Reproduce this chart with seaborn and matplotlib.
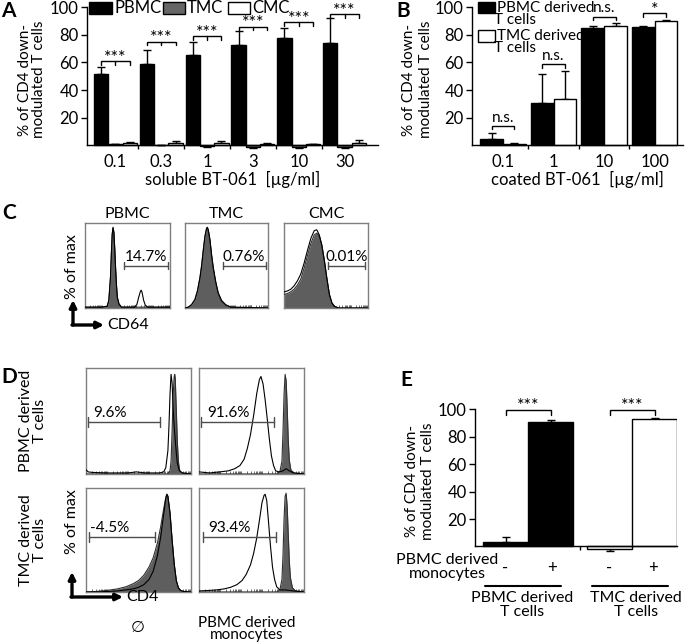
import numpy as np
import pandas as pd
import matplotlib
matplotlib.use('Agg')
import matplotlib.pyplot as plt
import seaborn as sns
from matplotlib.patches import Rectangle, FancyArrowPatch
from matplotlib.lines import Line2D

# ---------------- data ----------------
# Panel A
a_conc = ['0.1', '0.3', '1', '3', '10', '30']
a_cells = ['PBMC', 'TMC', 'CMC']
a_pbmc = [52, 59, 65.5, 73, 78, 74]
a_pbmc_err = [5, 10, 9.5, 9.5, 7, 18]
a_tmc = [0.8, 0.2, -0.6, -1.0, -1.0, -1.0]
a_tmc_err = [0.3, 0.2, 0.4, 0.6, 1.0, 0.6]
a_cmc = [1.8, 1.6, 1.8, 1.2, 1.0, 2.0]
a_cmc_err = [0.8, 1.3, 1.0, 0.3, 0.3, 1.6]
a_sig = ['***'] * 6
a_sig_y = [61, 75, 79, 86, 89, 95]

# Panel B
b_conc = ['0.1', '1', '10', '100']
b_cells = ['PBMC derived T cells', 'TMC derived T cells']
b_pbmc = [4.4, 30.5, 84.8, 86.0]
b_pbmc_err = [4.7, 21.5, 1.4, 0.7]
b_tmc = [0.7, 33.6, 86.7, 90.4]
b_tmc_err = [1.3, 20.0, 1.8, 0.5]
b_sig = ['n.s.', 'n.s.', 'n.s.', '*']
b_sig_y = [14, 58.7, 93.3, 95.7]

# Panel E
e_tcells = ['PBMC derived T cells', 'TMC derived T cells']
e_mono = ['-', '+']
e_pbmc_t = [3.0, 91.0]
e_pbmc_t_err = [4.1, 1.2]
e_tmc_t = [-1.9, 92.7]
e_tmc_t_err = [1.7, 0.7]
e_sig = ['***', '***']
e_sig_y = [99.5, 99.5]

# Panel C histograms (x, y as fraction of axis)
c_titles = ['PBMC', 'TMC', 'CMC']
c_gates = [(0.46, 0.98, 0.50), (0.46, 0.98, 0.50), (0.52, 0.97, 0.50)]
c_gate_labels = ['14.7%', '0.76%', '0.01%']
c_pbmc_fill_x = [0, 0.20, 0.26, 0.28, 0.30, 0.31, 0.32, 0.33, 0.34, 0.35, 0.36, 0.37, 0.38, 0.40, 0.43, 1.0]
c_pbmc_fill_y = [0.01, 0.01, 0.02, 0.08, 0.35, 0.62, 0.86, 0.94, 0.88, 0.68, 0.45, 0.26, 0.12, 0.04, 0.01, 0.01]
c_pbmc_open_x = [0, 0.20, 0.26, 0.28, 0.30, 0.31, 0.32, 0.33, 0.34, 0.35, 0.36, 0.37, 0.38, 0.40, 0.43,
                 0.58, 0.61, 0.63, 0.65, 0.66, 0.67, 0.69, 0.71, 0.74, 1.0]
c_pbmc_open_y = [0.01, 0.01, 0.02, 0.09, 0.37, 0.64, 0.87, 0.95, 0.89, 0.70, 0.47, 0.28, 0.13, 0.05, 0.01,
                 0.01, 0.04, 0.12, 0.19, 0.21, 0.19, 0.09, 0.03, 0.01, 0.01]
c_tmc_x = [0, 0.04, 0.08, 0.12, 0.15, 0.18, 0.20, 0.22, 0.24, 0.26, 0.27, 0.28, 0.30, 0.32, 0.34, 0.37, 0.40, 0.44, 0.49, 0.55, 1.0]
c_tmc_fill_y = [0.0, 0.01, 0.04, 0.10, 0.20, 0.36, 0.50, 0.68, 0.84, 0.93, 0.94, 0.92, 0.80, 0.62, 0.47, 0.30, 0.17, 0.08, 0.03, 0.01, 0.0]
c_tmc_open_y = [0.0, 0.01, 0.04, 0.10, 0.20, 0.35, 0.49, 0.67, 0.84, 0.94, 0.95, 0.92, 0.81, 0.63, 0.48, 0.31, 0.18, 0.09, 0.04, 0.01, 0.0]
c_cmc_x = [0, 0.04, 0.08, 0.12, 0.16, 0.20, 0.24, 0.28, 0.32, 0.36, 0.39, 0.42, 0.45, 0.48, 0.51, 0.54, 0.57, 0.60, 0.65, 1.0]
c_cmc_fill_y = [0.16, 0.17, 0.19, 0.22, 0.27, 0.34, 0.47, 0.62, 0.76, 0.86, 0.88, 0.85, 0.74, 0.56, 0.35, 0.16, 0.06, 0.02, 0.0, 0.0]
c_cmc_open_y = [0.19, 0.20, 0.22, 0.26, 0.32, 0.40, 0.53, 0.68, 0.82, 0.91, 0.92, 0.86, 0.74, 0.56, 0.35, 0.16, 0.06, 0.02, 0.0, 0.0]

# Panel D histograms
d_gates = [(0.02, 0.70, 0.49), (0.02, 0.71, 0.49), (0.03, 0.66, 0.53), (0.035, 0.73, 0.53)]
d_gate_labels = ['9.6%', '91.6%', '-4.5%', '93.4%']
d_tl_fill_x = [0, 0.04, 0.3, 0.5, 0.78, 0.80, 0.81, 0.82, 0.83, 0.84, 0.845, 0.85, 0.86, 0.87, 0.88, 0.89, 0.91, 1.0]
d_tl_fill_y = [0.0, 0.0, 0.0, 0.0, 0.0, 0.03, 0.12, 0.40, 0.75, 0.92, 0.94, 0.90, 0.60, 0.30, 0.12, 0.04, 0.01, 0.0]
d_tl_open_x = [0, 0.02, 0.06, 0.2, 0.4, 0.48, 0.56, 0.7, 0.74, 0.76, 0.78, 0.79, 0.80, 0.81, 0.82, 0.83, 0.84,
               0.85, 0.86, 0.87, 0.89, 0.92, 1.0]
d_tl_open_y = [0.04, 0.02, 0.015, 0.01, 0.01, 0.02, 0.01, 0.01, 0.02, 0.06, 0.22, 0.45, 0.75, 0.94, 0.86, 0.62,
               0.45, 0.32, 0.20, 0.10, 0.03, 0.01, 0.0]
d_tr_fill_x = [0, 0.74, 0.77, 0.79, 0.80, 0.81, 0.82, 0.83, 0.84, 0.85, 0.86, 0.875, 0.9, 1.0]
d_tr_fill_y = [0, 0.0, 0.02, 0.12, 0.40, 0.75, 0.94, 0.88, 0.62, 0.32, 0.13, 0.04, 0.01, 0.0]
d_tr_open_x = [0, 0.1, 0.2, 0.28, 0.34, 0.39, 0.43, 0.46, 0.49, 0.52, 0.55, 0.575, 0.59, 0.61, 0.63, 0.65,
               0.67, 0.69, 0.71, 0.73, 0.76, 0.80, 0.83, 0.86, 0.9, 1.0]
d_tr_open_y = [0.02, 0.01, 0.02, 0.03, 0.05, 0.08, 0.14, 0.24, 0.37, 0.55, 0.76, 0.89, 0.92, 0.85, 0.70, 0.52,
               0.33, 0.17, 0.08, 0.03, 0.02, 0.03, 0.05, 0.03, 0.01, 0.0]
d_bl_x = [0, 0.1, 0.2, 0.3, 0.38, 0.45, 0.5, 0.55, 0.6, 0.64, 0.68, 0.71, 0.74, 0.76, 0.77, 0.78, 0.8, 0.82,
          0.84, 0.86, 0.88, 0.9, 0.93, 1.0]
d_bl_fill_y = [0.0, 0.005, 0.015, 0.03, 0.05, 0.08, 0.11, 0.16, 0.24, 0.33, 0.47, 0.62, 0.80, 0.91, 0.94, 0.92,
               0.76, 0.50, 0.27, 0.11, 0.04, 0.015, 0.005, 0.0]
d_bl_open_y = [0.0, 0.0, 0.005, 0.01, 0.02, 0.03, 0.045, 0.07, 0.12, 0.20, 0.35, 0.52, 0.75, 0.90, 0.94, 0.92,
               0.76, 0.50, 0.27, 0.11, 0.04, 0.015, 0.005, 0.0]
d_br_fill_x = [0, 0.74, 0.77, 0.79, 0.80, 0.81, 0.82, 0.83, 0.84, 0.85, 0.86, 0.87, 0.89, 0.92, 1.0]
d_br_fill_y = [0, 0.0, 0.02, 0.12, 0.35, 0.70, 0.92, 0.95, 0.82, 0.55, 0.30, 0.14, 0.04, 0.01, 0.0]
d_br_open_x = [0, 0.1, 0.17, 0.24, 0.30, 0.36, 0.41, 0.45, 0.49, 0.52, 0.55, 0.58, 0.60, 0.62, 0.63, 0.645,
               0.66, 0.68, 0.70, 0.72, 0.74, 0.77, 0.82, 0.9, 1.0]
d_br_open_y = [0.01, 0.015, 0.02, 0.03, 0.045, 0.07, 0.11, 0.17, 0.26, 0.37, 0.52, 0.72, 0.86, 0.93, 0.94, 0.88,
               0.70, 0.45, 0.24, 0.12, 0.05, 0.02, 0.02, 0.01, 0.0]

# ---------------- setup ----------------
sns.set_theme(style='ticks')
plt.rcParams['font.family'] = ['Lato', 'DejaVu Sans']
plt.rcParams['text.color'] = 'black'
plt.rcParams['axes.labelcolor'] = 'black'
plt.rcParams['xtick.color'] = 'black'
plt.rcParams['ytick.color'] = 'black'

W, H = 685, 644
fig = plt.figure(figsize=(W / 100, H / 100), dpi=100)
FS = 12
FL = 11.5
BLACK, GRAY, WHITE = '#000000', '#666666', '#ffffff'


def add_ax(l, t, r, b):
    return fig.add_axes([l / W, 1 - b / H, (r - l) / W, (b - t) / H])


def ftext(x, y, s, **kw):
    kw.setdefault('va', 'center')
    kw.setdefault('fontsize', FS)
    return fig.text(x / W, 1 - y / H, s, **kw)


def fline(xs, ys, **kw):
    fig.add_artist(Line2D([x / W for x in xs], [1 - y / H for y in ys],
                          transform=fig.transFigure, **kw))


def fbox(x0, y0, x1, y1, fc):
    fig.add_artist(Rectangle((x0 / W, 1 - y1 / H), (x1 - x0) / W, (y1 - y0) / H,
                             transform=fig.transFigure, fc=fc, ec='black', lw=1))


def farrow(x0, y0, x1, y1):
    fig.add_artist(FancyArrowPatch((x0 / W, 1 - y0 / H), (x1 / W, 1 - y1 / H),
                                   transform=fig.transFigure, arrowstyle='-|>',
                                   mutation_scale=10, lw=2.4, color='black',
                                   shrinkA=0, shrinkB=0))


def style_bar_ax(ax, xlim, labelpad, lsp):
    ax.set_ylim(-5, 100)
    ax.set_xlim(*xlim)
    ax.spines['top'].set_visible(False)
    ax.spines['right'].set_visible(False)
    ax.spines['bottom'].set_position(('data', 0))
    ax.spines['left'].set_bounds(0, 100)
    for s in ('left', 'bottom'):
        ax.spines[s].set_color('black')
        ax.spines[s].set_linewidth(1)
    ax.set_yticks([20, 40, 60, 80, 100])
    ax.tick_params(axis='y', length=4, width=1, pad=2, labelsize=FS)
    ax.tick_params(axis='x', which='major', length=0, pad=6, labelsize=FS)
    ax.tick_params(axis='x', which='minor', length=3, width=1, direction='out')
    ax.set_ylabel('% of CD4 down-\nmodulated T cells', fontsize=11, linespacing=lsp,
                  labelpad=labelpad)


def bar_centers(container):
    out = {}
    for bar in container:
        xc = bar.get_x() + bar.get_width() / 2
        out[int(round(xc))] = xc
    return out


def add_errbars(ax, container, vals, errs):
    cen = bar_centers(container)
    for i, (v, e) in enumerate(zip(vals, errs)):
        lo, hi = (e, 0) if v < 0 else (0, e)
        ax.errorbar(cen[i], v, yerr=[[lo], [hi]], fmt='none', ecolor='black',
                    elinewidth=1, capsize=3, capthick=1, zorder=0.9)


def bracket(ax, x0, x1, y, text, mid=None, tick=3.0, fs=13, star=True):
    ax.plot([x0, x0, x1, x1], [y - tick, y, y, y - tick], color='black', lw=1,
            clip_on=False, solid_joinstyle='miter')
    if mid is not None:
        ax.plot([mid, mid], [y, y - tick], color='black', lw=1, clip_on=False)
    if star:
        ax.text((x0 + x1) / 2, y + 2.6, text, ha='center', va='center', fontsize=fs, clip_on=False)
    else:
        ax.text((x0 + x1) / 2, y + 0.8, text, ha='center', va='bottom', fontsize=fs, clip_on=False)


# ---------------- Panel A ----------------
dfA = pd.DataFrame({
    'conc': a_conc * 3,
    'cells': [c for c in a_cells for _ in a_conc],
    'val': a_pbmc + a_tmc + a_cmc,
})
axA = add_ax(87, 7.3, 378, 152.2)
sns.barplot(data=dfA, x='conc', y='val', hue='cells', order=a_conc, hue_order=a_cells,
            palette=[BLACK, GRAY, WHITE], width=0.94, gap=0, errorbar=None,
            edgecolor='black', linewidth=1, legend=False, ax=axA)
barsA = list(axA.containers)
style_bar_ax(axA, (-0.622, 5.73), 3, 0.95)
axA.set_xlabel('soluble BT-061  [µg/ml]', fontsize=FS, labelpad=1)
axA.set_xticks([0.5, 1.5, 2.5, 3.5, 4.5], minor=True)
for cont, vals, errs in zip(barsA, [a_pbmc, a_tmc, a_cmc],
                            [a_pbmc_err, a_tmc_err, a_cmc_err]):
    add_errbars(axA, cont, vals, errs)
cA0, cA1, cA2 = (bar_centers(c) for c in barsA)
for i, (s, y) in enumerate(zip(a_sig, a_sig_y)):
    bracket(axA, cA0[i], cA2[i], y, s, mid=cA1[i], tick=2.5)

fbox(89, 2, 112, 13.5, BLACK)
ftext(114, 8, 'PBMC')
fbox(163, 2, 185, 13.5, GRAY)
ftext(187, 8, 'TMC')
fbox(228, 2, 250, 13.5, WHITE)
ftext(252, 8, 'CMC')

# ---------------- Panel B ----------------
dfB = pd.DataFrame({
    'conc': b_conc * 2,
    'cells': [c for c in b_cells for _ in b_conc],
    'val': b_pbmc + b_tmc,
})
axB = add_ax(472, 7.3, 683, 152.2)
sns.barplot(data=dfB, x='conc', y='val', hue='cells', order=b_conc, hue_order=b_cells,
            palette=[BLACK, WHITE], width=0.9, gap=0, errorbar=None,
            edgecolor='black', linewidth=1, legend=False, ax=axB)
barsB = list(axB.containers)
style_bar_ax(axB, (-0.614, 3.56), 1, 1.3)
axB.set_xlabel('coated BT-061  [µg/ml]', fontsize=FS, labelpad=1)
axB.set_xticks([0.5, 1.5, 2.5], minor=True)
for cont, vals, errs in zip(barsB, [b_pbmc, b_tmc], [b_pbmc_err, b_tmc_err]):
    add_errbars(axB, cont, vals, errs)
cB0, cB1 = (bar_centers(c) for c in barsB)
for i, (s, y) in enumerate(zip(b_sig, b_sig_y)):
    bracket(axB, cB0[i], cB1[i], y, s, tick=2.5, star=(s == '*'), fs=(13 if s == '*' else 11))

fbox(478, 2, 495, 13, BLACK)
ftext(497, 7.5, 'PBMC derived', fontsize=11)
ftext(494, 20.5, 'T cells', fontsize=11)
fbox(478, 30, 495, 41.5, WHITE)
ftext(497, 35.5, 'TMC derived', fontsize=11)
ftext(494, 48.5, 'T cells', fontsize=11)

# ---------------- Panel E ----------------
dfE = pd.DataFrame({
    'tcell': [t for t in e_tcells for _ in e_mono],
    'mono': e_mono * 2,
    'val': [e_pbmc_t[0], e_pbmc_t[1], e_tmc_t[0], e_tmc_t[1]],
})
axE = add_ax(475, 409.3, 677, 553.3)
sns.barplot(data=dfE, x='tcell', y='val', hue='mono', order=e_tcells, hue_order=e_mono,
            palette=[BLACK, BLACK], width=0.865, gap=0, errorbar=None,
            edgecolor='black', linewidth=1, legend=False, ax=axE)
barsE = list(axE.containers)
for cont in barsE:
    for bar in cont:
        xi = int(round(bar.get_x() + bar.get_width() / 2))
        bar.set_facecolor(BLACK if xi == 0 else WHITE)
style_bar_ax(axE, (-0.51, 1.43), 2, 1.15)
axE.set_xticks([])
axE.set_xticks([0.5], minor=True)
axE.set_xlabel('')
e_vals_by_hue = [[e_pbmc_t[0], e_tmc_t[0]], [e_pbmc_t[1], e_tmc_t[1]]]
e_errs_by_hue = [[e_pbmc_t_err[0], e_tmc_t_err[0]], [e_pbmc_t_err[1], e_tmc_t_err[1]]]
for cont, vals, errs in zip(barsE, e_vals_by_hue, e_errs_by_hue):
    add_errbars(axE, cont, vals, errs)
cE0, cE1 = (bar_centers(c) for c in barsE)
for i, (s, y) in enumerate(zip(e_sig, e_sig_y)):
    bracket(axE, cE0[i], cE1[i], y, s, tick=3.5)

ftext(447, 567, 'PBMC derived\nmonocytes', ha='center', linespacing=0.95, fontsize=FL)
for x, s in [(505, '-'), (552, '+'), (609, '-'), (653, '+')]:
    ftext(x, 568, s, ha='center')
fline([485, 561], [586, 586], color='black', lw=1.5)
fline([592, 668], [586, 586], color='black', lw=1.5)
ftext(522, 605, 'PBMC derived\nT cells', ha='center', linespacing=0.95, fontsize=FL)
ftext(636, 605, 'TMC derived\nT cells', ha='center', linespacing=0.95, fontsize=FL)

# ---------------- histogram panels ----------------
LOG_TICKS = [d * 0.2 + 0.2 * np.log10(k) for d in range(5) for k in range(1, 10)]


def hist_ax(box, fill, opn, gate, label, label_x):
    ax = add_ax(*box)
    ax.fill_between(fill[0], fill[1], color='#5e5e5e', lw=0, zorder=2)
    ax.plot(fill[0], fill[1], color='#303030', lw=0.8, zorder=3)
    ax.plot(opn[0], opn[1], color='black', lw=0.8, zorder=4)
    ax.set_xlim(0, 1)
    ax.set_ylim(0, 1)
    for s in ax.spines.values():
        s.set_color('#7f7f7f')
        s.set_linewidth(1)
    ax.set_yticks([])
    ax.set_xticks(LOG_TICKS)
    ax.set_xticklabels([])
    ax.tick_params(axis='x', direction='in', length=2, width=0.6, color='#555555')
    g0, g1, gy = gate
    ax.plot([g0, g1], [gy, gy], color='#4d4d4d', lw=1, zorder=5)
    ax.plot([g0, g0], [gy - 0.045, gy + 0.045], color='#4d4d4d', lw=1, zorder=5)
    ax.plot([g1, g1], [gy - 0.045, gy + 0.045], color='#4d4d4d', lw=1, zorder=5)
    ax.text(label_x, gy + 0.015, label, fontsize=11, ha='left', va='bottom', zorder=6)
    return ax


# Panel C
c_boxes = [(85, 223, 170, 308), (185, 223, 268, 308), (284, 223, 368, 308)]
c_fill = [(c_pbmc_fill_x, c_pbmc_fill_y), (c_tmc_x, c_tmc_fill_y), (c_cmc_x, c_cmc_fill_y)]
c_open = [(c_pbmc_open_x, c_pbmc_open_y), (c_tmc_x, c_tmc_open_y), (c_cmc_x, c_cmc_open_y)]
c_label_x = [0.47, 0.45, 0.50]
for box, fl, op, g, lab, lx, title in zip(c_boxes, c_fill, c_open, c_gates, c_gate_labels,
                                           c_label_x, c_titles):
    hist_ax(box, fl, op, g, lab, lx)
    ftext((box[0] + box[2]) / 2, 214, title, ha='center', fontsize=FL)

ftext(72, 267, '% of max', rotation=90, ha='center', fontsize=FL)
farrow(73, 325, 73, 300)
farrow(72, 325, 104, 325)
ftext(107, 325, 'CD64', ha='left', fontsize=FL)

# Panel D
d_boxes = [(86, 368, 191, 474), (199, 368, 304, 474), (86, 488, 191, 592), (199, 488, 304, 592)]
d_fill = [(d_tl_fill_x, d_tl_fill_y), (d_tr_fill_x, d_tr_fill_y), (d_bl_x, d_bl_fill_y),
          (d_br_fill_x, d_br_fill_y)]
d_open = [(d_tl_open_x, d_tl_open_y), (d_tr_open_x, d_tr_open_y), (d_bl_x, d_bl_open_y),
          (d_br_open_x, d_br_open_y)]
d_label_x = [0.07, 0.08, 0.04, 0.09]
for box, fl, op, g, lab, lx in zip(d_boxes, d_fill, d_open, d_gates, d_gate_labels, d_label_x):
    hist_ax(box, fl, op, g, lab, lx)

ftext(33, 421, 'PBMC derived\nT cells', rotation=90, ha='center', fontsize=FL, linespacing=1.0)
ftext(33, 540, 'TMC derived\nT cells', rotation=90, ha='center', fontsize=FL, linespacing=1.0)
ftext(72, 522, '% of max', rotation=90, ha='center', fontsize=FL)
farrow(72, 597, 72, 572)
farrow(71, 597, 123, 597)
ftext(126, 597, 'CD4', ha='left', fontsize=FL)
ftext(138, 628, '∅', ha='center', fontsize=FL)
ftext(247, 629, 'PBMC derived\nmonocytes', ha='center', fontsize=11, linespacing=0.9)

# panel letters
for x, y, s in [(1, 11, 'A'), (396, 11, 'B'), (2, 213, 'C'), (1, 377, 'D'), (400, 380, 'E')]:
    ftext(x, y, s, ha='left', fontsize=15, fontweight='bold')

fig.savefig('out.png', dpi=100)
